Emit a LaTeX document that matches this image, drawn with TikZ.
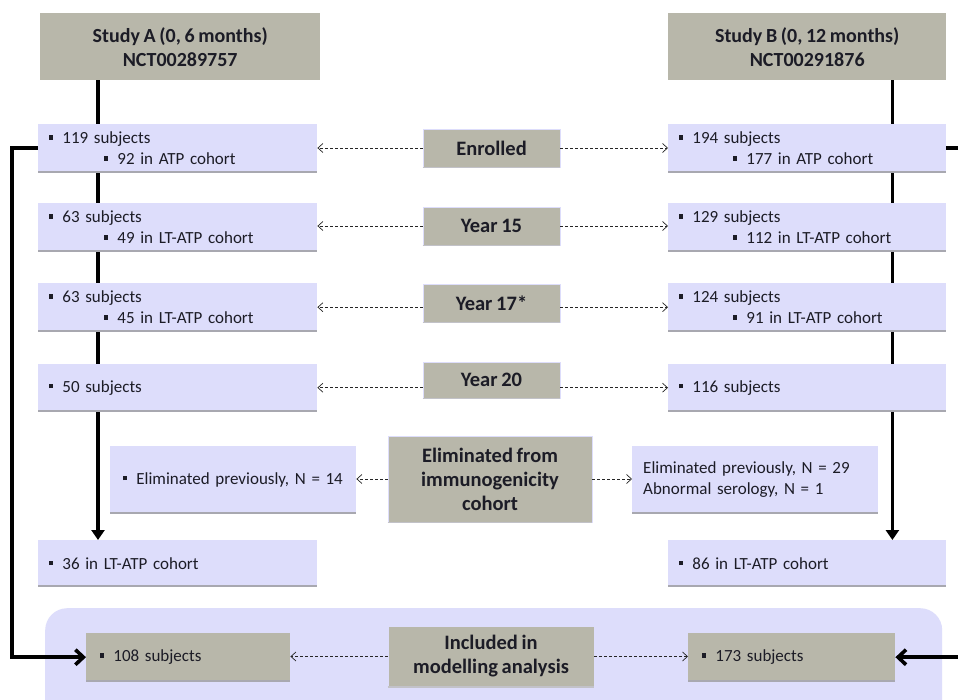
\documentclass[tikz,border=0pt]{standalone}
\usepackage{fontspec}
\setmainfont{Carlito}[WordSpace=0.8]
\usetikzlibrary{arrows.meta}
\definecolor{hdr}{RGB}{184,183,170}
\definecolor{lav}{RGB}{221,221,251}
\definecolor{shd}{RGB}{168,168,176}
\definecolor{txt}{RGB}{28,28,38}
\newcommand{\bul}{\raisebox{4pt}{\rule{4.2pt}{4.2pt}}\hspace{9pt}}
\pgfdeclarelayer{bgzero}
\pgfdeclarelayer{bgone}
\pgfsetlayers{bgzero,bgone,main}
\tikzset{
  shadowline/.style={append after command={(\tikzlastnode.south west) edge[draw=shd, line width=2pt] (\tikzlastnode.south east)}},
  lbox/.style={fill=lav, text=txt, font=\fontsize{17}{21}\selectfont, align=left, anchor=north west,
    inner xsep=11pt, inner ysep=0pt, shadowline},
  gbox/.style={fill=hdr, text=txt, font=\fontsize{17}{21}\selectfont, align=left, anchor=north west,
    inner xsep=14pt, inner ysep=0pt, shadowline},
  hbox/.style={fill=hdr, text=txt, font=\fontsize{20}{24}\selectfont\bfseries, align=center,
    anchor=north west, inner sep=0pt},
  lab/.style={fill=hdr, draw=lav, line width=0.8pt, text=txt, font=\fontsize{20.5}{24}\selectfont\bfseries,
    align=center, inner sep=0pt, append after command={(\tikzlastnode.south west) edge[draw=shd!70!white, line width=1.5pt] (\tikzlastnode.south east)}},
  thk/.style={line width=3.6pt, black},
  dsh/.style={densely dashed, line width=0.7pt, black!85, -{Straight Barb[length=5pt,width=9pt]}},
}
\begin{document}
\begin{tikzpicture}[x=1pt,y=-1pt]
\clip (0,0) rectangle (958,700);
\begin{pgfonlayer}{bgzero}
\fill[white] (0,0) rectangle (958,700);
\node[fill=lav, rounded corners=22pt, anchor=north west, minimum width=897pt, minimum height=130pt, inner sep=0pt] (reg) at (45,608) {};
\end{pgfonlayer}

% headers
\node[hbox, minimum width=280pt, minimum height=67pt] (hA) at (40,13) {Study A (0, 6 months)\\NCT00289757};
\node[hbox, minimum width=278pt, minimum height=67pt] (hB) at (668,13) {Study B (0, 12 months)\\NCT00291876};

% left column
\node[lbox, text width=257pt, minimum height=48pt] (a1) at (38,124) {\bul 119 subjects\\\hspace*{55pt}\bul 92 in ATP cohort};
\node[lbox, text width=257pt, minimum height=48pt] (a2) at (38,203) {\bul 63 subjects\\\hspace*{55pt}\bul 49 in LT-ATP cohort};
\node[lbox, text width=257pt, minimum height=48pt] (a3) at (38,283) {\bul 63 subjects\\\hspace*{55pt}\bul 45 in LT-ATP cohort};
\node[lbox, text width=257pt, minimum height=47pt] (a4) at (38,364) {\bul 50 subjects};
\node[lbox, text width=257pt, minimum height=46pt] (a36) at (38,540) {\bul 36 in LT-ATP cohort};
\node[lbox, inner xsep=13pt, text width=220pt, minimum height=67pt] (ae) at (110,446) {\bul Eliminated previously, N = 14};

% right column
\node[lbox, text width=256pt, minimum height=48pt] (b1) at (668,124) {\bul 194 subjects\\\hspace*{54pt}\bul 177 in ATP cohort};
\node[lbox, text width=256pt, minimum height=48pt] (b2) at (668,203) {\bul 129 subjects\\\hspace*{54pt}\bul 112 in LT-ATP cohort};
\node[lbox, text width=256pt, minimum height=48pt] (b3) at (668,283) {\bul 124 subjects\\\hspace*{54pt}\bul 91 in LT-ATP cohort};
\node[lbox, text width=256pt, minimum height=47pt] (b4) at (668,364) {\bul 116 subjects};
\node[lbox, text width=256pt, minimum height=46pt] (b86) at (668,540) {\bul 86 in LT-ATP cohort};
\node[lbox, text width=224pt, minimum height=67pt] (be) at (632,446) {Eliminated previously, N = 29\\Abnormal serology, N = 1};

% bottom boxes
\node[gbox, text width=176pt, minimum height=48pt] (a108) at (86,633) {\bul 108 subjects};
\node[gbox, text width=179pt, minimum height=48pt] (b173) at (688,633) {\bul 173 subjects};

% central labels
\node[lab, minimum width=137pt, minimum height=38pt] (l0) at (491.5,148) {Enrolled};
\node[lab, minimum width=137pt, minimum height=38pt] (l15) at (491.5,226) {Year 15};
\node[lab, minimum width=137pt, minimum height=38pt] (l17) at (491.5,303) {Year 17*};
\node[lab, minimum width=137pt, minimum height=36pt] (l20) at (491.5,380) {Year 20};
\node[lab, minimum width=204pt, minimum height=86pt] (le) at (490,479) {Eliminated from\\immunogenicity\\cohort};
\node[lab, minimum width=206pt, minimum height=60pt] (li) at (491,656.5) {Included in\\modelling analysis};

% thick lines (behind boxes)
\begin{pgfonlayer}{bgone}
\draw[thk, -{Triangle[length=10pt,width=13pt]}] ([xshift=58pt]hA.south west) -- ([xshift=58pt]hA.south west |- a36.north);
\draw[thk, -{Triangle[length=10pt,width=13pt]}] ([xshift=-54pt]hB.south east) -- ([xshift=-54pt]hB.south east |- b86.north);
\draw[thk, -{Straight Barb[length=8pt,width=15pt]}] (a1.west) -- ++(-26,0) |- (a108.west);
\draw[thk, -{Straight Barb[length=8pt,width=15pt]}] (b1.east) -- ++(18,0) |- (b173.east);
\end{pgfonlayer}

% dashed arrows
\draw[dsh] (l0.west) -- (l0.west -| a1.east);
\draw[dsh] (l0.east) -- (l0.east -| b1.west);
\draw[dsh] (l15.west) -- (l15.west -| a2.east);
\draw[dsh] (l15.east) -- (l15.east -| b2.west);
\draw[dsh] (l17.west |- a3.east) -- (a3.east);
\draw[dsh] (l17.east |- b3.west) -- (b3.west);
\draw[dsh] (l20.west |- a4.east) -- (a4.east);
\draw[dsh] (l20.east |- b4.west) -- (b4.west);
\draw[dsh] (le.west) -- (le.west -| ae.east);
\draw[dsh] (le.east) -- (le.east -| be.west);
\draw[dsh] (li.west) -- (li.west -| a108.east);
\draw[dsh] (li.east) -- (li.east -| b173.west);
\end{tikzpicture}
\end{document}
